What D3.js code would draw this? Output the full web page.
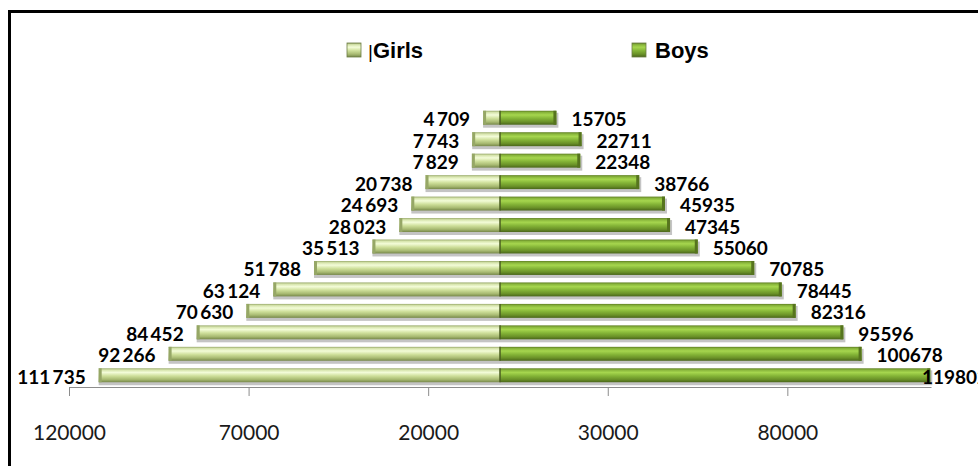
<!DOCTYPE html>
<html>
<head>
<meta charset="utf-8">
<script src="https://cdn.jsdelivr.net/npm/d3@7"></script>
<style>
  body { margin: 0; background: #fff; }
  svg { display: block; }
</style>
</head>
<body>
<div id="graph"></div>
<script>
// rows from top (oldest) to bottom (youngest)
var rows = ["r1", "r2", "r3", "r4", "r5", "r6", "r7", "r8", "r9", "r10", "r11", "r12", "r13"];
var girls = [4709, 7743, 7829, 20738, 24693, 28023, 35513, 51788, 63124, 70630, 84452, 92266, 111735];
var boys = [15705, 22711, 22348, 38766, 45935, 47345, 55060, 70785, 78445, 82316, 95596, 100678, 119802];
var seriesNames = ["Girls", "Boys"];
var tickValues = [-120000, -70000, -20000, 30000, 80000];

var width = 978, height = 466;

var svg = d3.select("#graph").append("svg")
    .attr("width", width)
    .attr("height", height);

var defs = svg.append("defs");

function gradient(id, stops) {
    var g = defs.append("linearGradient")
        .attr("id", id)
        .attr("x1", 0).attr("y1", 0).attr("x2", 0).attr("y2", 1);
    stops.forEach(function(s) {
        g.append("stop").attr("offset", s[0]).attr("stop-color", s[1]);
    });
}
gradient("gGirls", [["0", "#98a96a"], ["0.12", "#d6e4ac"], ["0.3", "#f3fcd8"], ["0.55", "#cedf9a"], ["0.8", "#a8ba72"], ["1", "#77884a"]]);
gradient("gBoys", [["0", "#5f7e22"], ["0.12", "#88b53b"], ["0.3", "#a6d64e"], ["0.55", "#84b437"], ["0.8", "#6a9128"], ["1", "#4a661a"]]);

// frame (runs off the right and bottom edges)
svg.append("rect")
    .attr("x", 9.5).attr("y", 11.5)
    .attr("width", 1000).attr("height", 500)
    .attr("fill", "none")
    .attr("stroke", "#000")
    .attr("stroke-width", 3);

var x = d3.scaleLinear().domain([-120000, 120000]).range([69, 931]);
var y = d3.scaleBand().domain(rows).range([107, 386]).paddingInner(0.35).paddingOuter(0.175);

var data = rows.map(function(r, i) { return {row: r, girls: girls[i], boys: boys[i]}; });

var spaced = d3.formatLocale({decimal: ".", thousands: "\u2009", grouping: [3], currency: ["", ""]}).format(",d");

// axis
var axis = svg.append("g")
    .attr("transform", "translate(0," + 387 + ")")
    .call(d3.axisBottom(x)
        .tickValues(tickValues)
        .tickFormat(function(d) { return Math.abs(d); })
        .tickSize(9)
        .tickSizeOuter(0)
        .tickPadding(29));
axis.select(".domain").attr("stroke", "#8c8c8c");
axis.selectAll(".tick line").attr("stroke", "#8c8c8c");
axis.selectAll(".tick text")
    .attr("fill", "#1a1a1a")
    .style("font-family", "Lato, 'Open Sans', sans-serif")
    .style("font-size", "21px");

var bars = svg.append("g");

// shadows
bars.selectAll("rect.shadow").data(data).enter().append("rect")
    .attr("class", "shadow")
    .attr("x", function(d) { return x(-d.girls); })
    .attr("y", function(d) { return y(d.row) + 2; })
    .attr("width", function(d) { return x(d.boys) - x(-d.girls) + 2; })
    .attr("height", y.bandwidth() + 1)
    .attr("fill", "#c4c4c4");

bars.selectAll("rect.girls").data(data).enter().append("rect")
    .attr("class", "girls")
    .attr("x", function(d) { return x(-d.girls); })
    .attr("y", function(d) { return y(d.row); })
    .attr("width", function(d) { return x(0) - x(-d.girls); })
    .attr("height", y.bandwidth())
    .attr("fill", "url(#gGirls)");

bars.selectAll("rect.boys").data(data).enter().append("rect")
    .attr("class", "boys")
    .attr("x", x(0))
    .attr("y", function(d) { return y(d.row); })
    .attr("width", function(d) { return x(d.boys) - x(0); })
    .attr("height", y.bandwidth())
    .attr("fill", "url(#gBoys)");

// bevel edges at the bar ends
bars.selectAll("rect.gEnd").data(data).enter().append("rect")
    .attr("x", function(d) { return x(-d.girls); })
    .attr("y", function(d) { return y(d.row); })
    .attr("width", 3)
    .attr("height", y.bandwidth())
    .attr("fill", "#96a766");
bars.selectAll("rect.bEnd").data(data).enter().append("rect")
    .attr("x", function(d) { return x(d.boys) - 3; })
    .attr("y", function(d) { return y(d.row); })
    .attr("width", 3)
    .attr("height", y.bandwidth())
    .attr("fill", "#56741e");
bars.selectAll("line.mid").data(data).enter().append("line")
    .attr("x1", x(0)).attr("x2", x(0))
    .attr("y1", function(d) { return y(d.row); })
    .attr("y2", function(d) { return y(d.row) + y.bandwidth(); })
    .attr("stroke", "#4a5c20")
    .attr("stroke-width", 1.5);

// data labels
var labelFont = "Lato, 'Open Sans', sans-serif";
svg.append("g").selectAll("text").data(data).enter().append("text")
    .attr("x", function(d) { return x(-d.girls) - 13; })
    .attr("y", function(d) { return y(d.row) + y.bandwidth() / 2 + 1; })
    .attr("text-anchor", "end")
    .attr("dominant-baseline", "central")
    .style("font-family", labelFont)
    .style("font-weight", "bold")
    .style("font-size", "19px")
    .text(function(d) { return spaced(d.girls); });

svg.append("g").selectAll("text").data(data).enter().append("text")
    .attr("x", function(d) { return Math.min(x(d.boys) + 15, x(120000) - 9); })
    .attr("y", function(d) { return y(d.row) + y.bandwidth() / 2 + 1; })
    .attr("dominant-baseline", "central")
    .style("font-family", labelFont)
    .style("font-weight", "bold")
    .style("font-size", "19px")
    .text(function(d) { return d.boys; });

// legend
var legendX = [347, 632];
var legendFill = ["url(#gGirls)", "url(#gBoys)"];
var legend = svg.append("g").selectAll("g").data(seriesNames).enter().append("g")
    .attr("transform", function(d, i) { return "translate(" + legendX[i] + ",43)"; });
legend.append("rect")
    .attr("width", 14).attr("height", 14)
    .attr("fill", function(d, i) { return legendFill[i]; })
    .attr("stroke", "#6d7d45")
    .attr("stroke-width", 0.8);
var legendText = legend.append("text")
    .attr("x", function(d, i) { return i === 0 ? 21 : 23; })
    .attr("y", 15)
    .style("font-family", "'Liberation Sans', Arial, sans-serif")
    .style("font-size", "22px");
// the reference shows a stray caret before "Girls"
legendText.filter(function(d, i) { return i === 0; }).append("tspan")
    .style("font-weight", "normal")
    .style("font-size", "19px")
    .text("|");
legendText.append("tspan")
    .style("font-weight", "bold")
    .text(function(d) { return d; });
</script>
</body>
</html>
